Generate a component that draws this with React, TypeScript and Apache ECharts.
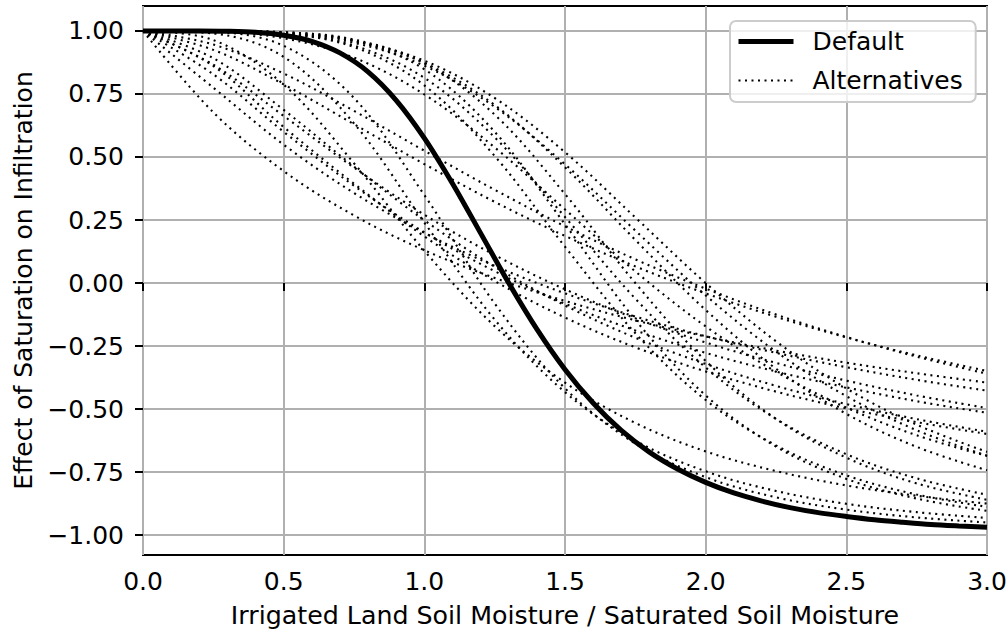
import React, { useEffect, useRef } from "react";
import * as echarts from "echarts";

// x positions of the sampled values
const xAlt = [0, 0.25, 0.5, 0.75, 1, 1.25, 1.5, 1.75, 2, 2.25, 2.5, 2.75, 3];
const xDefault = [
  0, 0.1, 0.2, 0.3, 0.4, 0.5, 0.6, 0.7, 0.8, 0.9, 1.0, 1.1, 1.2, 1.3, 1.4, 1.5,
  1.6, 1.7, 1.8, 1.9, 2.0, 2.1, 2.2, 2.3, 2.4, 2.5, 2.6, 2.7, 2.8, 2.9, 3.0,
];

// Default curve (thick black)
const yDefault = [
  1, 1.0, 1.0, 0.999, 0.995, 0.983, 0.959, 0.913, 0.838, 0.725, 0.575, 0.395,
  0.198, 0, -0.183, -0.343, -0.476, -0.585, -0.671, -0.738, -0.791, -0.833,
  -0.865, -0.891, -0.911, -0.926, -0.939, -0.949, -0.958, -0.964, -0.969,
];

// Alternative curves (dotted), values at xAlt
const altL1 = [1, 0.677, 0.444, 0.268, 0.13, 0.02, -0.071, -0.148, -0.212, -0.268, -0.316, -0.358, -0.395];
const altL2 = [1, 0.775, 0.549, 0.357, 0.199, 0.068, -0.041, -0.133, -0.211, -0.277, -0.334, -0.384, -0.427];
const altL3 = [1, 0.866, 0.663, 0.458, 0.271, 0.111, -0.025, -0.14, -0.236, -0.317, -0.387, -0.446, -0.496];
const altL4 = [1, 0.892, 0.687, 0.462, 0.249, 0.065, -0.089, -0.217, -0.321, -0.408, -0.48, -0.54, -0.59];
const altL5 = [1, 0.828, 0.6, 0.386, 0.201, 0.047, -0.082, -0.188, -0.277, -0.351, -0.414, -0.469, -0.515];
const altL6 = [1, 0.861, 0.619, 0.394, 0.185, 0.008, -0.137, -0.255, -0.351, -0.431, -0.497, -0.552, -0.599];
const altM1 = [1, 0.925, 0.788, 0.63, 0.472, 0.322, 0.187, 0.066, -0.041, -0.134, -0.216, -0.287, -0.349];
const altM2 = [1, 0.946, 0.831, 0.683, 0.525, 0.37, 0.225, 0.094, -0.022, -0.125, -0.214, -0.292, -0.36];
const altH1 = [1, 1.0, 0.992, 0.961, 0.882, 0.734, 0.519, 0.26, 0.0, -0.231, -0.418, -0.562, -0.67];
const altH2 = [1, 0.999, 0.99, 0.953, 0.862, 0.699, 0.471, 0.208, -0.049, -0.272, -0.449, -0.584, -0.685];
const altH3 = [1, 1.0, 0.993, 0.96, 0.873, 0.706, 0.459, 0.171, -0.107, -0.34, -0.519, -0.65, -0.743];
const altH4 = [1, 0.997, 0.971, 0.894, 0.748, 0.538, 0.292, 0.046, -0.172, -0.352, -0.494, -0.604, -0.686];
const altH5 = [1, 1.0, 0.995, 0.966, 0.872, 0.668, 0.353, 0.0, -0.309, -0.539, -0.693, -0.795, -0.86];
const altH6 = [1, 0.999, 0.99, 0.942, 0.814, 0.578, 0.262, -0.062, -0.335, -0.539, -0.679, -0.775, -0.84];
const altH7 = [1, 1.0, 0.995, 0.962, 0.848, 0.6, 0.233, -0.146, -0.446, -0.649, -0.777, -0.855, -0.904];
const altH8 = [1, 0.999, 0.989, 0.936, 0.784, 0.504, 0.144, -0.199, -0.464, -0.644, -0.763, -0.839, -0.888];
const altS1 = [1, 0.996, 0.941, 0.734, 0.349, -0.081, -0.418, -0.637, -0.77, -0.85, -0.899, -0.93, -0.95];
const altS2 = [1, 0.99, 0.897, 0.633, 0.24, -0.145, -0.433, -0.625, -0.747, -0.825, -0.876, -0.909, -0.932];
const altS3 = [1, 0.964, 0.787, 0.475, 0.128, -0.171, -0.395, -0.555, -0.668, -0.746, -0.803, -0.844, -0.875];

const altCurves = [
  altL1, altL2, altL3, altL4, altL5, altL6, altM1, altM2,
  altH1, altH2, altH3, altH4, altH5, altH6, altH7, altH8,
  altS1, altS2, altS3,
];

const yTicks = [-1, -0.75, -0.5, -0.25, 0, 0.25, 0.5, 0.75, 1];
const xTicks = [0, 0.5, 1, 1.5, 2, 2.5, 3];

const FONT = "DejaVu Sans";
const DOT: number[] = [2, 4.5];
const HIDDEN_SYMBOL = {
  color: "rgba(0,0,0,0)",
  borderColor: "rgba(0,0,0,0)",
  borderWidth: 0,
  opacity: 0,
};

export default function App() {
  const ref = useRef<HTMLDivElement>(null);
  useEffect(() => {
    document.body.style.margin = "0";
    if (!ref.current) return;
    const chart = echarts.init(ref.current, null, { renderer: "svg" });

    const altSeries = altCurves.map((ys) => ({
      type: "line",
      name: "Alternatives",
      data: xAlt.map((x, i) => [x, ys[i]]),
      symbol: "none",
      smooth: 0.35,
      silent: true,
      z: 2,
      itemStyle: { color: "#000" },
      lineStyle: { color: "#000", width: 2.1, type: DOT, cap: "butt" },
      emphasis: { disabled: true },
    }));

    const option: any = {
      animation: false,
      textStyle: { fontFamily: FONT },
      grid: {
        left: 143,
        top: 6,
        width: 844,
        height: 549,
        show: true,
        borderColor: "#000",
        borderWidth: 2,
        backgroundColor: "transparent",
        containLabel: false,
        outerBoundsMode: "none",
      },
      legend: {
        orient: "vertical",
        left: 730,
        top: 21,
        padding: [8, 13, 9, 6],
        itemWidth: 55,
        itemHeight: 25,
        itemGap: 14,
        backgroundColor: "rgba(255,255,255,0.8)",
        borderColor: "#cccccc",
        borderWidth: 2,
        borderRadius: 6,
        selectedMode: false,
        itemStyle: HIDDEN_SYMBOL,
        textStyle: {
          fontFamily: FONT,
          fontSize: 25,
          color: "#000",
          padding: [0, 0, 0, 14],
        },
        data: [
          { name: "Default", itemStyle: HIDDEN_SYMBOL, lineStyle: { width: 5, color: "#000" } },
          { name: "Alternatives", itemStyle: HIDDEN_SYMBOL, lineStyle: { width: 2, color: "#000", type: DOT } },
        ],
      },
      xAxis: {
        type: "value",
        min: 0,
        max: 3,
        interval: 0.5,
        name: "Irrigated Land Soil Moisture / Saturated Soil Moisture",
        nameLocation: "middle",
        nameGap: 48,
        nameTextStyle: { fontFamily: FONT, fontSize: 25.3, color: "#000" },
        axisLine: { show: false },
        axisTick: { show: true, length: 8, lineStyle: { color: "#000", width: 2 }, customValues: xTicks },
        axisLabel: {
          show: true,
          margin: 14,
          fontFamily: FONT,
          fontSize: 25,
          color: "#000",
          customValues: xTicks,
          formatter: (v: number) => v.toFixed(1),
        },
        splitLine: { show: true, lineStyle: { color: "#b0b0b0", width: 2 } },
      },
      yAxis: {
        type: "value",
        min: -1.079,
        max: 1.099,
        minInterval: 0.25,
        maxInterval: 0.25,
        name: "Effect of Saturation on Infiltration",
        nameLocation: "middle",
        nameGap: 106,
        nameTextStyle: { fontFamily: FONT, fontSize: 25, color: "#000" },
        axisLine: { show: false },
        axisTick: { show: true, length: 8, lineStyle: { color: "#000", width: 2 }, customValues: yTicks },
        axisLabel: {
          show: true,
          margin: 19,
          fontFamily: FONT,
          fontSize: 25,
          color: "#000",
          customValues: yTicks,
          formatter: (v: number) => (v < 0 ? "\u2212" : "") + Math.abs(v).toFixed(2),
        },
        splitLine: { show: true, lineStyle: { color: "#b0b0b0", width: 2 } },
      },
      series: [
        ...altSeries,
        {
          type: "line",
          name: "Default",
          data: xDefault.map((x, i) => [x, yDefault[i]]),
          symbol: "none",
          smooth: 0.3,
          silent: true,
          z: 3,
          itemStyle: { color: "#000" },
          lineStyle: { color: "#000", width: 5 },
          emphasis: { disabled: true },
        },
      ],
    };
    chart.setOption(option);
    return () => chart.dispose();
  }, []);
  return <div ref={ref} style={{ width: 1008, height: 633 }} />;
}
